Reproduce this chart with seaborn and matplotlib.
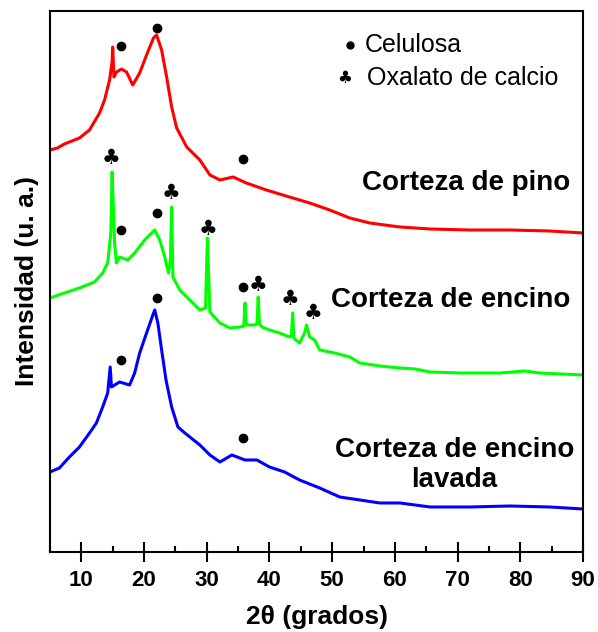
import numpy as np
import pandas as pd
import matplotlib
matplotlib.use("Agg")
import matplotlib.pyplot as plt
import seaborn as sns
from matplotlib.ticker import MultipleLocator

# XRD patterns (2theta in degrees, intensity in arbitrary units)
pino_x = [5, 6.2, 7.3, 8.5, 9.7, 11.3, 12.9, 13.7, 14.5, 14.9, 15.0, 15.2, 15.6, 16.4, 17.2, 18.2,
          19.3, 20.4, 21.5, 22.0, 22.8, 23.6, 24.4, 25.2, 26.8, 28.9, 30.5, 32.1, 34.2, 36.3,
          39.5, 42.1, 44.8, 46.4, 49.6, 52.8, 56.0, 60.8, 65.6, 72.0, 78.3, 84.7, 90]
pino_y = [402, 404, 408, 411, 414, 422, 439, 452, 472, 490, 505, 475, 480, 483, 480, 467,
          479, 497, 514, 517, 502, 475, 445, 424, 405, 392, 377, 372, 375, 369,
          362, 357, 352, 349, 342, 334, 329, 325, 323, 322, 322, 321, 319]

encino_x = [5, 7.3, 9.7, 12.1, 13.4, 14.2, 14.7, 14.9, 15.1, 15.3, 15.6, 16.1, 17.4, 18.5, 20.1,
            21.7, 22.5, 23.3, 23.9, 24.2, 24.4, 24.6, 25.7, 27.3, 28.9, 29.8, 30.1, 30.5, 32.1,
            33.7, 35.3, 35.9, 36.1, 36.3, 36.9, 37.6, 38.0, 38.2, 38.4, 38.8, 40.0, 41.6, 43.2,
            43.5, 43.7, 43.9, 44.2, 44.8, 45.6, 45.9, 46.4, 47.2, 48.0, 50.4, 52.8, 54.4, 57.6,
            60.8, 63.2, 65.6, 70.4, 76.8, 80.7, 83.1, 90]
encino_y = [254, 259, 264, 270, 279, 289, 319, 380, 345, 309, 289, 295, 292, 299, 312,
            322, 312, 295, 279, 292, 345, 275, 262, 252, 242, 244, 314, 240, 229,
            224, 225, 226, 249, 227, 227, 227, 228, 255, 228, 225, 222, 219, 215,
            216, 239, 214, 212, 209, 219, 227, 215, 212, 202, 199, 195, 189, 186,
            184, 183, 180, 179, 179, 181, 179, 177]

lavada_x = [5, 6.5, 8.1, 9.7, 11.3, 12.4, 13.4, 14.2, 14.6, 14.8, 16.1, 17.7, 18.5, 19.3, 20.4,
            21.4, 21.7, 22.2, 22.8, 23.5, 24.4, 25.4, 26.5, 28.9, 30.5, 32.1, 34.0, 36.1, 38.0,
            40.0, 42.4, 44.8, 48.0, 51.2, 54.4, 57.6, 60.8, 65.6, 72.0, 78.3, 84.7, 90]
lavada_y = [80, 84, 95, 105, 119, 129, 145, 159, 185, 165, 170, 167, 179, 199, 219,
            237, 242, 229, 202, 172, 145, 125, 119, 107, 97, 90, 97, 92, 92,
            85, 80, 72, 64, 55, 52, 49, 49, 45, 45, 46, 45, 43]

# peak markers
celulosa_x = [16.4, 22.0, 35.7, 16.4, 22.0, 35.7, 16.4, 22.0, 35.7]
celulosa_y = [506, 524, 393, 322, 339, 265, 192, 254, 114]
oxalato_x = [14.7, 24.3, 30.2, 38.2, 43.2, 46.9]
oxalato_y = [394, 359, 323, 267, 253, 239]

samples = ["Corteza de pino", "Corteza de encino", "Corteza de encino\nlavada"]
colors = ["#ff0000", "#00ff00", "#0000ff"]

df = pd.concat([
    pd.DataFrame({"x": pino_x, "y": pino_y, "muestra": samples[0]}),
    pd.DataFrame({"x": encino_x, "y": encino_y, "muestra": samples[1]}),
    pd.DataFrame({"x": lavada_x, "y": lavada_y, "muestra": samples[2]}),
])

sns.set_style("ticks")
plt.rcParams['font.family'] = ['Liberation Sans', 'DejaVu Sans']
plt.rcParams['text.color'] = 'black'
plt.rcParams['axes.labelcolor'] = 'black'
plt.rcParams['xtick.color'] = 'black'

fig, ax = plt.subplots(figsize=(5.98, 6.32), dpi=100)
fig.subplots_adjust(left=0.0836, right=0.975, bottom=0.1266, top=0.9826)

sns.lineplot(data=df, x="x", y="y", hue="muestra", palette=colors, sort=False,
             linewidth=2.2, legend=False, ax=ax)

ax.plot(celulosa_x, celulosa_y, "o", color="black", ms=6, zorder=5)
for cx, cy in zip(oxalato_x, oxalato_y):
    ax.text(cx, cy, "\u2663", family="DejaVu Sans", fontsize=15, ha="center", va="center")

# sample labels
ax.text(88.0, 369, samples[0], fontsize=20, fontweight="bold", ha="right", va="center")
ax.text(88.0, 252, samples[1], fontsize=20, fontweight="bold", ha="right", va="center")
ax.text(88.6, 87, samples[2], fontsize=20, fontweight="bold", ha="right", va="center",
        multialignment="center")

# marker key
ax.plot([52.8], [507], "o", color="black", ms=5)
ax.text(55.2, 507, "Celulosa", fontsize=18, va="center")
ax.text(52.0, 474, "\u2663", family="DejaVu Sans", fontsize=12, ha="center", va="center")
ax.text(55.5, 474, "Oxalato de calcio", fontsize=18, va="center")

ax.set_xlim(5, 90)
ax.set_ylim(0, 541)
ax.xaxis.set_major_locator(MultipleLocator(10))
ax.xaxis.set_minor_locator(MultipleLocator(5))
ax.set_yticks([])
ax.tick_params(axis="x", which="major", direction="inout", length=14, width=1.5, pad=6,
               labelsize=16)
ax.tick_params(axis="x", which="minor", direction="in", length=4.5, width=1.5)
for lab in ax.get_xticklabels():
    lab.set_fontweight("bold")
for sp in ax.spines.values():
    sp.set_visible(True)
    sp.set_linewidth(1.5)
    sp.set_color("black")

ax.set_xlabel("2\u03b8 (grados)", fontsize=19, fontweight="bold", labelpad=10)
ax.set_ylabel("Intensidad (u. a.)", fontsize=19, fontweight="bold", labelpad=8)

fig.savefig("out.png", dpi=100)
